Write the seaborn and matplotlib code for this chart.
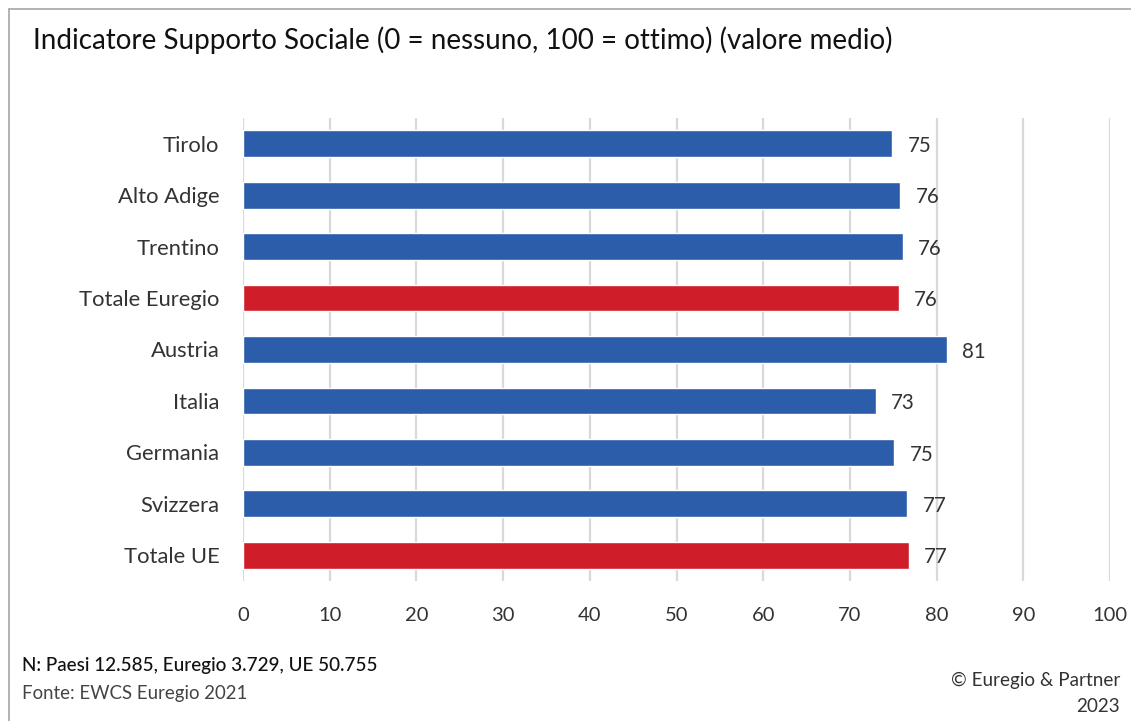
import matplotlib
matplotlib.use("Agg")
import matplotlib.pyplot as plt
import seaborn as sns
import pandas as pd
from matplotlib.lines import Line2D

categories = ["Tirolo", "Alto Adige", "Trentino", "Totale Euregio", "Austria",
              "Italia", "Germania", "Svizzera", "Totale UE"]
values = [74.9, 75.8, 76.1, 75.65, 81.2, 72.97, 75.1, 76.6, 76.8]
is_total = [False, False, False, True, False, False, False, False, True]
x_ticks = [0, 10, 20, 30, 40, 50, 60, 70, 80, 90, 100]

BLUE = "#2C5DAA"
RED = "#CF1E29"
TXT = "#333333"

df = pd.DataFrame({"cat": categories, "val": values})
palette = {c: (RED if t else BLUE) for c, t in zip(categories, is_total)}

sns.set_theme(style="white")
plt.rcParams["font.family"] = ["Lato", "DejaVu Sans"]

fig = plt.figure(figsize=(11.31, 7.21), dpi=100)
ax = fig.add_axes([0.2149, 0.1942, 0.7666, 0.6422])

sns.barplot(data=df, y="cat", x="val", hue="cat", palette=palette,
            order=categories, hue_order=categories, legend=False,
            width=0.52, saturation=1, ax=ax, zorder=3)

for cont in ax.containers:
    labels = ax.bar_label(cont, fmt="%.0f", padding=11, fontsize=14.8, color=TXT)
    for t in labels:
        t.xyann = (11, -1.6)

ax.set_xlim(0, 100)
ax.set_xticks(x_ticks)
ax.set_xticklabels([str(t) for t in x_ticks])
ax.set_ylim(len(categories) - 0.5, -0.5)
ax.grid(axis="x", color="#d9d9d9", linewidth=1.6, zorder=0)
ax.grid(axis="y", visible=False)
for s in ax.spines.values():
    s.set_visible(False)
ax.set_xlabel("")
ax.set_ylabel("")
ax.tick_params(axis="x", length=0, pad=19, labelsize=14.5, labelcolor=TXT)
ax.tick_params(axis="y", length=0, pad=17, labelsize=15.8, labelcolor=TXT)

fig.text(33 / 1131, 1 - 40 / 721, "Indicatore Supporto Sociale (0 = nessuno, 100 = ottimo) (valore medio)",
         fontsize=20, color="#111111", va="center", ha="left")
fig.text(22 / 1131, 1 - 666 / 721, "N: Paesi 12.585, Euregio 3.729, UE 50.755",
         fontsize=13.6, color="#111111", va="center", ha="left", fontweight="medium")
fig.text(22 / 1131, 1 - 693 / 721, "Fonte: EWCS Euregio 2021",
         fontsize=13.4, color="#444444", va="center", ha="left")
fig.text(1120 / 1131, 1 - 680 / 721, "© Euregio & Partner",
         fontsize=13.6, color="#333333", va="center", ha="right")
fig.text(1120 / 1131, 1 - 706 / 721, "2023",
         fontsize=13.6, color="#333333", va="center", ha="right")

# frame lines (top and left)
fig.add_artist(Line2D([9 / 1131, 1], [1 - 9 / 721, 1 - 9 / 721], transform=fig.transFigure,
                      color="#a6a6a6", linewidth=1.2))
fig.add_artist(Line2D([9 / 1131, 9 / 1131], [0, 1 - 9 / 721], transform=fig.transFigure,
                      color="#a6a6a6", linewidth=1.2))

fig.savefig("out.png", dpi=100, facecolor="white")
